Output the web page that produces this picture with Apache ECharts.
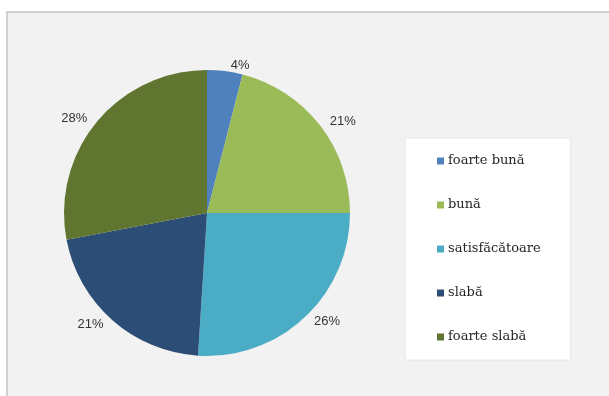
<!DOCTYPE html>
<html>
<head>
<meta charset="utf-8">
<script src="https://cdn.jsdelivr.net/npm/echarts@6/dist/echarts.min.js"></script>
<style>
    html, body { margin: 0; padding: 0; background: #ffffff; }
    #chart { width: 609px; height: 396px; }
</style>
</head>
<body>
<div id="chart"></div>
<script>
var categories = ['foarte bună', 'bună', 'satisfăcătoare', 'slabă', 'foarte slabă'];
var values = [4, 21, 26, 21, 28];
var colors = ['#4f81bd', '#9bbb59', '#4bacc6', '#2c4d75', '#5f7530'];

var dom = document.getElementById('chart');
var myChart = echarts.init(dom);

var pieData = [];
for (var i = 0; i < categories.length; i++) {
    pieData.push({ name: categories[i], value: values[i], itemStyle: { color: colors[i] } });
}

var option = {
    animation: false,
    graphic: [
        {
            type: 'rect',
            z: -10,
            shape: { x: 7, y: 12, width: 610, height: 390 },
            style: { fill: '#f2f2f2', stroke: '#c4c4c4', lineWidth: 1.5 }
        }
    ],
    legend: {
        orient: 'vertical',
        left: 405,
        top: 138,
        data: categories,
        icon: 'rect',
        itemWidth: 7,
        itemHeight: 7,
        itemGap: 30,
        backgroundColor: '#ffffff',
        borderColor: '#e6e6e6',
        borderWidth: 1,
        padding: [16, 30, 16, 32],
        textStyle: {
            fontFamily: 'DejaVu Serif',
            fontSize: 13,
            color: '#262626',
            lineHeight: 14,
            padding: [0, 0, 0, -1]
        }
    },
    series: [
        {
            type: 'pie',
            center: [207, 213],
            radius: 143,
            startAngle: 90,
            clockwise: true,
            data: pieData,
            label: {
                show: true,
                position: 'outside',
                formatter: '{c}%',
                fontFamily: 'Liberation Sans',
                fontSize: 13,
                color: '#333333'
            },
            labelLine: {
                show: false,
                length: 6,
                length2: 0
            },
            emphasis: { disabled: true }
        }
    ]
};
myChart.setOption(option, true);
</script>
</body>
</html>
